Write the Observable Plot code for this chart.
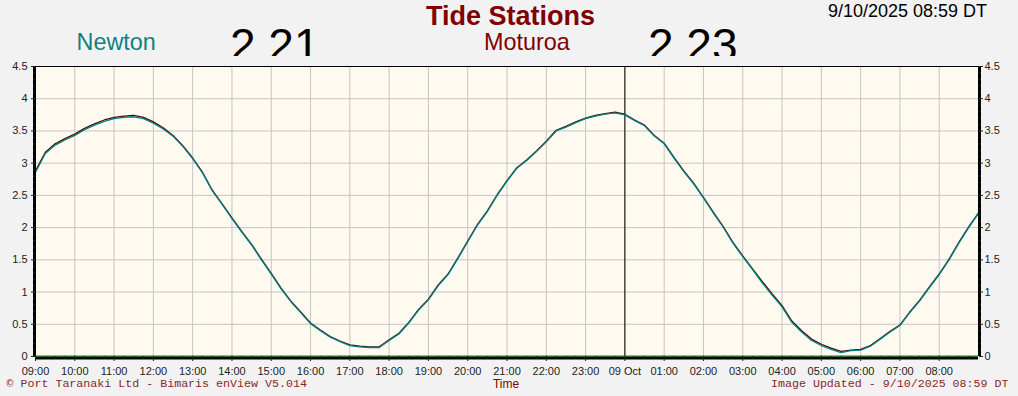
<!DOCTYPE html>
<html><head><meta charset="utf-8">
<script src="https://cdn.jsdelivr.net/npm/d3@7"></script>
<script src="https://cdn.jsdelivr.net/npm/@observablehq/plot@0.6"></script>
<style>
html,body{margin:0;padding:0;background:#f2f2f2;}
#wrap{position:relative;width:1018px;height:396px;overflow:hidden;background:#f2f2f2;}
#wrap svg{position:absolute;left:0;top:0;}
</style></head><body><div id="wrap"></div>
<script>
// ---- data ----
const title = "Tide Stations";
const stationNames = ["Newton", "Moturoa"];
const currentValues = ["2.21", "2.23"];
const stampText = "9/10/2025 08:59 DT";
const axisTitle = "Time";
const footerLeft = "© Port Taranaki Ltd - Bimaris enView V5.014";
const footerRight = "Image Updated - 9/10/2025 08:59 DT";
const startTime = "2025-10-08T09:00:00Z";
const endTime = "2025-10-09T09:00:00Z";
const midnight = "2025-10-09T00:00:00Z";
const stepMinutes = 15;
const yTicks = [0, 0.5, 1, 1.5, 2, 2.5, 3, 3.5, 4, 4.5];
const newton = [2.86,3.15,3.28,3.36,3.43,3.52,3.59,3.65,3.69,3.71,3.72,3.69,3.62,3.53,3.42,3.26,3.07,2.85,2.57,2.36,2.14,1.93,1.73,1.50,1.28,1.05,0.85,0.68,0.51,0.40,0.30,0.23,0.17,0.15,0.14,0.14,0.25,0.35,0.52,0.72,0.88,1.10,1.27,1.52,1.78,2.04,2.25,2.50,2.72,2.92,3.04,3.18,3.33,3.50,3.56,3.63,3.69,3.73,3.76,3.78,3.75,3.66,3.58,3.42,3.30,3.08,2.87,2.68,2.46,2.23,2.01,1.76,1.55,1.35,1.14,0.95,0.77,0.53,0.38,0.25,0.17,0.11,0.06,0.09,0.10,0.16,0.27,0.38,0.48,0.68,0.86,1.07,1.27,1.50,1.76,2.00,2.22];
const moturoa = [2.88,3.17,3.30,3.38,3.45,3.54,3.61,3.67,3.71,3.73,3.74,3.71,3.64,3.55,3.43,3.27,3.08,2.86,2.58,2.37,2.15,1.94,1.74,1.51,1.29,1.06,0.86,0.69,0.52,0.41,0.31,0.24,0.18,0.16,0.15,0.15,0.26,0.36,0.53,0.73,0.89,1.11,1.28,1.53,1.79,2.05,2.26,2.51,2.73,2.93,3.05,3.19,3.34,3.51,3.57,3.64,3.70,3.74,3.77,3.79,3.76,3.67,3.59,3.43,3.31,3.09,2.88,2.69,2.47,2.24,2.02,1.77,1.56,1.36,1.16,0.97,0.79,0.55,0.40,0.27,0.19,0.13,0.08,0.10,0.11,0.17,0.28,0.39,0.49,0.69,0.87,1.08,1.28,1.51,1.77,2.01,2.23];

// ---- build ----
const t0 = new Date(startTime), t1 = new Date(endTime), tMid = new Date(midnight);
const rows = (arr, s) => arr.map((v, i) => ({t: new Date(+t0 + i * stepMinutes * 60000), v, s}));
const newtonRows = rows(newton, stationNames[0]);
const moturoaRows = rows(moturoa, stationNames[1]);
const hours = d3.utcHour.range(t0, t1);
const quarters = d3.utcMinute.every(15).range(t0, t1);
const minorY = d3.range(0, 46).map(i => i / 10);
const fmtH = d3.utcFormat("%H:%M");
const tickFmt = d => (d.getUTCHours() === 0 && d.getUTCMinutes() === 0) ? d3.utcFormat("%d %b")(d) : fmtH(d);
const font = "'Liberation Sans', Arial, sans-serif";
const grid = "#c4c4c4";

const chart = Plot.plot({
  width: 1018, height: 396,
  marginLeft: 35, marginRight: 40, marginTop: 66, marginBottom: 40,
  style: {background: "transparent", fontFamily: font, fontSize: "11px", color: "#222", overflow: "visible"},
  x: {type: "utc", domain: [t0, t1], label: null},
  y: {domain: [0, 4.5], label: null},
  marks: [
    Plot.frame({fill: "#fffaf0", stroke: null}),
    Plot.gridX(hours, {stroke: grid, strokeOpacity: 1}),
    Plot.gridY(yTicks, {stroke: grid, strokeOpacity: 1}),
    Plot.ruleX([tMid], {stroke: "black", strokeWidth: 1}),
    Plot.line(moturoaRows, {x: "t", y: "v", stroke: "#4a0808", strokeWidth: 1.3}),
    Plot.line(newtonRows, {x: "t", y: "v", stroke: "#008080", strokeWidth: 1.3}),
    Plot.ruleY([4.5], {stroke: "black", strokeWidth: 1}),
    Plot.ruleX([t0], {stroke: "black", strokeWidth: 3, dx: -1}),
    Plot.ruleX([t1], {stroke: "black", strokeWidth: 3, dx: 1}),
    Plot.ruleY([0], {stroke: "black", strokeWidth: 3, dy: 1.5}),
    Plot.ruleY([0], {stroke: "#008000", strokeWidth: 1, dy: -0.5}),
    Plot.axisX(hours, {label: null, tickSize: 5, tickPadding: 6, tickFormat: tickFmt, fill: "#222", fontSize: 11}),
    Plot.axisX(quarters, {label: null, tickSize: 3, fill: "none"}),
    Plot.axisY(yTicks, {label: null, anchor: "left", tickSize: 4, tickPadding: 4, tickFormat: d => String(d), fill: "#222"}),
    Plot.axisY(minorY, {label: null, anchor: "left", tickSize: 2, fill: "none"}),
    Plot.axisY(yTicks, {label: null, anchor: "right", tickSize: 4, tickPadding: 2, tickFormat: d => String(d), fill: "#222"}),
    Plot.axisY(minorY, {label: null, anchor: "right", tickSize: 2, fill: "none"})
  ]
});
const wrap = document.getElementById("wrap");
wrap.appendChild(chart);

// ---- overlay texts ----
const o = d3.select(wrap).append("svg").attr("width", 1018).attr("height", 396).style("font-family", font);
o.append("defs").append("clipPath").attr("id", "topclip").append("rect").attr("x", 0).attr("y", 0).attr("width", 1018).attr("height", 56);
const txt = (s, x, y, size, fill, anchor = "start", extra = {}) => {
  const e = o.append("text").attr("x", x).attr("y", y).attr("font-size", size).attr("fill", fill).attr("text-anchor", anchor).text(s);
  for (const k in extra) e.attr(k, extra[k]);
  return e;
};
txt(title, 510.5, 24.5, 27, "#800000", "middle", {"font-weight": "bold"});
txt(stationNames[0], 76.5, 50, 23.4, "#138080");
txt(stationNames[1], 484, 50, 23.4, "#800000");
const g = o.append("g").attr("clip-path", "url(#topclip)");
g.append("text").attr("x", 230).attr("y", 61).attr("font-size", 46).attr("fill", "#000").text(currentValues[0]);
g.append("text").attr("x", 648).attr("y", 61).attr("font-size", 46).attr("fill", "#000").text(currentValues[1]);
txt(stampText, 987, 17, 18, "#000", "end");
txt(axisTitle, 506, 388, 12, "#800000", "middle");
txt(footerLeft, 6.5, 387, 11.65, "#8b2626", "start", {"font-family": "'Liberation Mono', 'Courier New', monospace"});
txt(footerRight, 1008.5, 387, 11.65, "#8b2626", "end", {"font-family": "'Liberation Mono', 'Courier New', monospace"});
</script></body></html>
